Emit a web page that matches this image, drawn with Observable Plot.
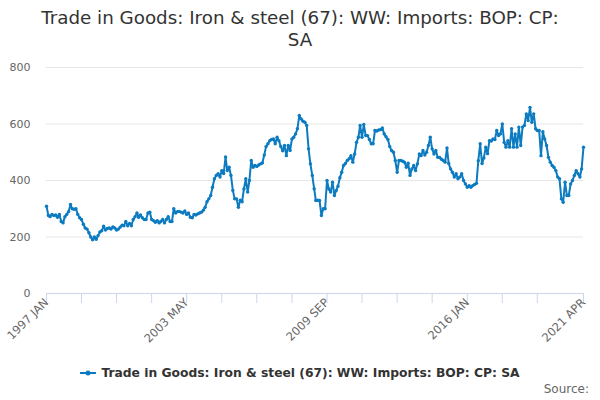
<!DOCTYPE html>
<html><head><meta charset="utf-8">
<script src="https://cdn.jsdelivr.net/npm/d3@7"></script>
<script src="https://cdn.jsdelivr.net/npm/@observablehq/plot@0.6"></script>
<style>
body{margin:0;width:600px;height:400px;overflow:hidden;background:#fff;font-family:"DejaVu Sans",sans-serif;position:relative;}
#title{position:absolute;left:0;top:7px;width:600px;text-align:center;font-size:18.3px;line-height:22px;color:#333;}
#chart{position:absolute;left:0;top:52px;}
#legend{position:absolute;top:366px;left:0;width:600px;text-align:center;font-size:12.3px;font-weight:bold;color:#333;white-space:nowrap;}
#legend svg{vertical-align:-1px;margin-right:5px;}
#source{position:absolute;right:11px;top:382px;font-size:12px;color:#666;}
</style></head><body>
<div id="title">Trade in Goods: Iron &amp; steel (67): WW: Imports: BOP: CP:<br>SA</div>
<div id="chart"></div>
<div id="legend"></div>
<div id="source">Source:</div>
<script>
const seriesName = "Trade in Goods: Iron & steel (67): WW: Imports: BOP: CP: SA";
const seriesColor = "#0c7bc0";
const startYear = 1997;
const monthAbbr = ["JAN","FEB","MAR","APR","MAY","JUN","JUL","AUG","SEP","OCT","NOV","DEC"];
const imports = [
 309,276,272,280,276,278,270,280,255,250,272,280,
 290,315,300,298,300,280,268,262,245,232,228,215,
 200,190,200,192,205,218,222,238,225,230,232,228,
 236,232,225,228,235,242,240,255,240,248,240,262,
 272,285,270,278,268,262,262,285,288,262,258,252,
 258,250,255,262,250,262,272,255,255,300,285,290,
 290,288,285,292,280,285,270,268,280,278,282,285,
 288,295,305,325,335,347,376,406,418,424,412,435,
 425,483,435,447,418,365,335,335,305,330,325,370,
 406,359,400,471,447,453,450,455,459,462,490,520,
 530,541,545,547,530,553,541,520,505,524,488,524,
 506,547,553,565,583,630,618,610,606,595,512,459,
 418,371,329,330,329,276,300,300,400,370,359,394,
 347,365,380,410,429,453,460,471,477,488,465,494,
 535,553,595,553,598,559,559,545,530,530,577,575,
 579,580,586,565,555,545,520,506,500,471,429,471,
 471,468,465,447,461,418,441,453,435,459,494,488,
 506,490,500,524,553,512,494,506,482,482,475,471,
 465,515,460,441,429,412,424,406,412,424,400,388,
 376,382,376,382,386,390,470,530,460,480,518,495,
 541,540,547,545,577,559,565,600,535,518,541,518,
 583,518,565,518,589,524,589,595,636,612,659,606,
 636,583,577,577,488,573,547,524,482,465,453,447,
 435,412,406,335,323,394,347,347,388,400,418,435,
 424,412,441,518
];
const yTicks = [0, 200, 400, 600, 800];
const xTickLabels = ["1997 JAN", "2003 MAY", "2009 SEP", "2016 JAN", "2021 APR"];
const tickStepMonths = 19;

const data = imports.map((v, i) => ({date: new Date(Date.UTC(startYear, i, 1)), value: v}));
const parseLabel = s => { const [y, m] = s.split(" "); return new Date(Date.UTC(+y, monthAbbr.indexOf(m), 1)); };
const labelDates = xTickLabels.map(parseLabel);
const first = data[0].date, last = data[data.length - 1].date;
const tickDates = [];
for (let i = 0; i < imports.length - tickStepMonths; i += tickStepMonths) tickDates.push(data[i].date);
tickDates.push(last);
const fmt = d => `${d.getUTCFullYear()} ${monthAbbr[d.getUTCMonth()]}`;

const chart = Plot.plot({
  width: 600, height: 300,
  marginTop: 15, marginBottom: 59, marginLeft: 46, marginRight: 17,
  x: {type: "utc", domain: [first, last]},
  y: {domain: [0, 800]},
  style: {fontFamily: "'DejaVu Sans', sans-serif", fontSize: "11px", color: "#666", background: "white"},
  marks: [
    Plot.gridY(yTicks, {stroke: "#e6e6e6", strokeOpacity: 1}),
    Plot.axisY(yTicks, {tickSize: 0, tickPadding: 16, label: null, fill: "#666"}),
    Plot.ruleY([0], {stroke: "#ccd6eb"}),
    Plot.axisX(tickDates, {tickSize: 10, tickFormat: () => "", stroke: "#ccd6eb", strokeOpacity: 1, label: null}),
    Plot.axisX(labelDates, {tickSize: 0, tickPadding: 7, tickRotate: -45, tickFormat: fmt, label: null, fill: "#666", fontSize: 11.5}),
    Plot.line(data, {x: "date", y: "value", stroke: seriesColor, strokeWidth: 2}),
    Plot.dot(data, {x: "date", y: "value", r: 1.7, fill: seriesColor})
  ]
});
document.getElementById("chart").append(chart);

const legend = document.getElementById("legend");
legend.innerHTML = `<svg width="16" height="10"><line x1="0" y1="5" x2="16" y2="5" stroke="${seriesColor}" stroke-width="2"/><circle cx="8" cy="5" r="2.5" fill="${seriesColor}"/></svg>`;
legend.append(document.createTextNode(seriesName));
</script>
</body></html>
